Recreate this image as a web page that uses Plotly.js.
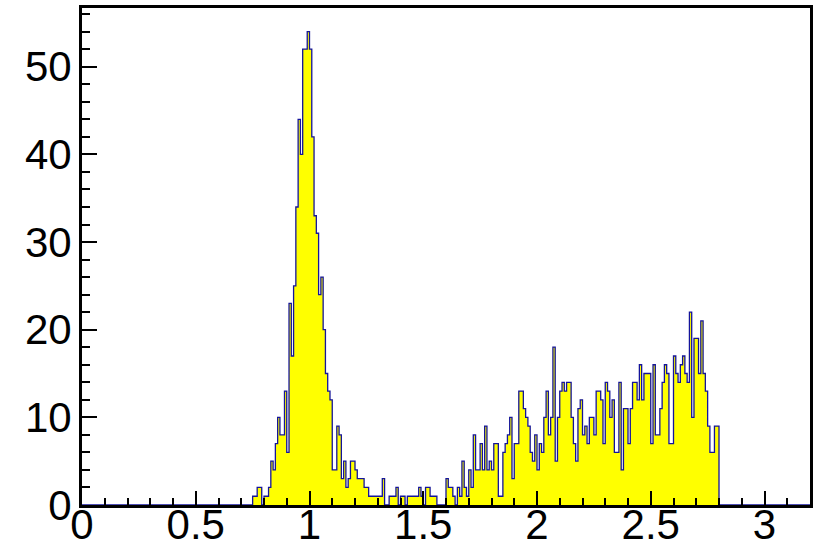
<!DOCTYPE html>
<html>
<head>
<meta charset="utf-8">
<script src="https://cdn.plot.ly/plotly-3.0.1.min.js"></script>
<style>
  html, body { margin: 0; padding: 0; background: #ffffff; }
  #chart { width: 826px; height: 553px; }
</style>
</head>
<body>
<div id="chart"></div>
<script>
// Histogram definition (ROOT-style, 320 bins of width 0.01 over [0, 3.2])
const histMin = 0.0;
const histMax = 3.2;
const binWidth = 0.01;
const firstFilledBin = 75;   // bin starting at x = 0.75

// Bin contents, bins 75 .. 279 (x = 0.75 .. 2.80)
const counts = [
  1, 1, 2, 2, 0, 1, 1, 2, 5, 4,
  7, 10, 8, 8, 13, 6, 23, 17, 25, 34,
  44, 40, 52, 52, 54, 52, 42, 33, 31, 24,
  26, 20, 15, 13, 12, 4, 4, 9, 8, 3,
  5, 2, 3, 5, 5, 4, 3, 3, 3, 2,
  2, 1, 1, 1, 1, 1, 1, 3, 0, 0,
  1, 1, 1, 2, 0, 1, 1, 0, 1, 1,
  1, 1, 1, 2, 1, 0, 2, 2, 1, 1,
  1, 0, 0, 0, 0, 3, 2, 2, 1, 0,
  2, 1, 5, 2, 1, 4, 2, 8, 4, 4,
  7, 4, 9, 4, 5, 4, 7, 7, 1, 1,
  6, 7, 8, 10, 3, 7, 7, 13, 13, 11,
  10, 9, 6, 5, 8, 4, 7, 6, 10, 13,
  8, 10, 18, 5, 10, 13, 14, 13, 14, 14,
  10, 7, 5, 11, 12, 8, 9, 7, 10, 10,
  8, 13, 13, 12, 7, 14, 13, 10, 12, 6,
  6, 14, 4, 11, 11, 7, 11, 14, 14, 12,
  16, 12, 15, 15, 15, 7, 16, 8, 8, 11,
  14, 16, 15, 7, 7, 17, 15, 14, 16, 17,
  15, 14, 22, 10, 19, 19, 15, 21, 15, 13,
  9, 6, 6, 9, 9
];

const xTickVals = [0, 0.5, 1, 1.5, 2, 2.5, 3];
const xTickText = ["0", "0.5", "1", "1.5", "2", "2.5", "3"];
const yTickVals = [0, 10, 20, 30, 40, 50];
const yTickText = ["0", "10", "20", "30", "40", "50"];

// Build the step outline over the full histogram range
const nBins = Math.round((histMax - histMin) / binWidth);
const xs = [];
const ys = [];
for (let i = 0; i < nBins; i++) {
  const j = i - firstFilledBin;
  const v = (j >= 0 && j < counts.length) ? counts[j] : 0;
  xs.push(+(histMin + i * binWidth).toFixed(4));
  ys.push(v);
}
xs.push(histMax);
ys.push(ys[ys.length - 1]);

const yMax = Math.max.apply(null, counts) * 1.05;

const trace = {
  type: 'scatter',
  mode: 'lines',
  x: xs,
  y: ys,
  line: { shape: 'hv', color: '#14149a', width: 1.3 },
  fill: 'tozeroy',
  fillcolor: '#ffff00',
  hoverinfo: 'skip',
  cliponaxis: true
};

const fontFamily = '"Liberation Sans", Arial, Helvetica, sans-serif';

const layout = {
  width: 826,
  height: 553,
  margin: { l: 82, r: 16, t: 8, b: 48, pad: 0 },
  paper_bgcolor: '#ffffff',
  plot_bgcolor: '#ffffff',
  showlegend: false,
  xaxis: {
    range: [histMin, histMax],
    tickmode: 'array',
    tickvals: xTickVals,
    ticktext: xTickText,
    ticks: 'inside',
    ticklen: 14,
    tickwidth: 2,
    tickcolor: '#000000',
    minor: { dtick: 0.1, tick0: 0, ticks: 'inside', ticklen: 7, tickwidth: 2, tickcolor: '#000000', showgrid: false },
    showline: true,
    linewidth: 3,
    linecolor: '#000000',
    mirror: true,
    showgrid: false,
    zeroline: false,
    tickfont: { family: fontFamily, size: 42, color: '#000000' },
    ticklabelstandoff: -19,
    fixedrange: true
  },
  yaxis: {
    range: [0, yMax],
    tickmode: 'array',
    tickvals: yTickVals,
    ticktext: yTickText,
    ticks: 'inside',
    ticklen: 15,
    tickwidth: 2,
    tickcolor: '#000000',
    minor: { dtick: 2, tick0: 0, ticks: 'inside', ticklen: 8, tickwidth: 2, tickcolor: '#000000', showgrid: false },
    showline: true,
    linewidth: 3,
    linecolor: '#000000',
    mirror: true,
    showgrid: false,
    zeroline: false,
    tickfont: { family: fontFamily, size: 42, color: '#000000' },
    ticklabelstandoff: -1,
    fixedrange: true
  }
};

Plotly.newPlot('chart', [trace], layout, { displayModeBar: false, staticPlot: true });
</script>
</body>
</html>
